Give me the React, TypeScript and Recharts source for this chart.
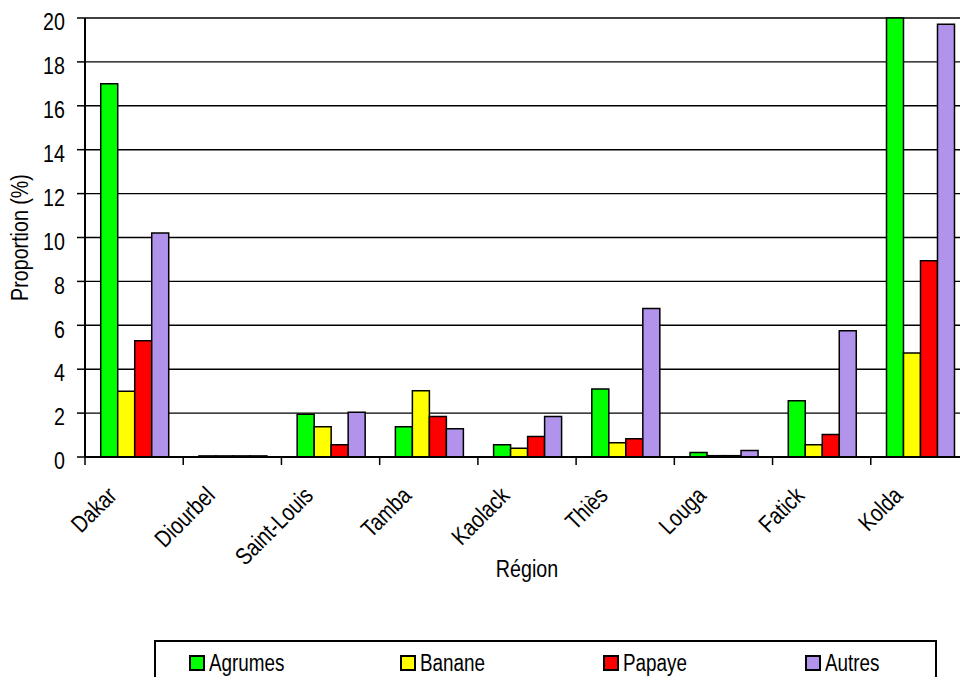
import React from 'react';
import { BarChart, Bar, XAxis, YAxis, CartesianGrid } from 'recharts';

// Proportion (%) by region and fruit type
const regions = ['Dakar', 'Diourbel', 'Saint-Louis', 'Tamba', 'Kaolack', 'Thiès', 'Louga', 'Fatick', 'Kolda'];
const agrumes = [17.0, 0.05, 1.95, 1.38, 0.56, 3.1, 0.2, 2.56, 20.0];
const banane = [3.0, 0.05, 1.38, 3.02, 0.4, 0.65, 0.06, 0.56, 4.74];
const papaye = [5.3, 0.05, 0.56, 1.84, 0.93, 0.83, 0.06, 1.02, 8.94];
const autres = [10.2, 0.05, 2.04, 1.29, 1.84, 6.76, 0.3, 5.75, 19.71];
const yTicks = [0, 2, 4, 6, 8, 10, 12, 14, 16, 18, 20];

const series = [
  { key: 'agrumes', name: 'Agrumes', color: '#00ff00' },
  { key: 'banane', name: 'Banane', color: '#ffff00' },
  { key: 'papaye', name: 'Papaye', color: '#ff0000' },
  { key: 'autres', name: 'Autres', color: '#b293eb' },
];

const chartData = regions.map((region, i) => ({
  region,
  agrumes: agrumes[i],
  banane: banane[i],
  papaye: papaye[i],
  autres: autres[i],
}));

// Arial Narrow look: Liberation Sans squeezed horizontally
const FONT = "'Liberation Sans', Arial, sans-serif";
const SQUEEZE = 'scale(0.82,1)';

const NarrowText = ({ x, y, angle = 0, anchor = 'middle', baseline, size = 24, children }: any) => (
  <text
    transform={`translate(${x},${y}) rotate(${angle}) ${SQUEEZE}`}
    textAnchor={anchor}
    dominantBaseline={baseline}
    fontFamily={FONT}
    fontSize={size}
    fill="#000"
  >
    {children}
  </text>
);

const RegionTick = (props: any) => {
  const { x, y, payload } = props;
  const half = payload && payload.offset ? payload.offset : 49;
  return (
    <g>
      <line x1={x - half} x2={x - half} y1={y} y2={y + 8} stroke="#000" strokeWidth={1.5} />
      <NarrowText x={x - 16} y={y + 40} angle={-45} anchor="end">
        {payload.value}
      </NarrowText>
    </g>
  );
};

const ValueTick = (props: any) => {
  const { x, y, payload } = props;
  return (
    <NarrowText x={x} y={y + 4} anchor="end" baseline="central">
      {payload.value}
    </NarrowText>
  );
};

export default function App() {
  return (
    <div style={{ position: 'absolute', left: 0, top: 0, width: 960, height: 677, overflow: 'hidden', background: '#fff' }}>
      <BarChart
        width={980}
        height={677}
        data={chartData}
        margin={{ top: 18, right: 11, left: 0, bottom: 0 }}
        barCategoryGap="16%"
        barGap={0}
      >
        <CartesianGrid vertical={false} stroke="#000" strokeWidth={1.4} />
        <XAxis
          dataKey="region"
          height={220}
          interval={0}
          tickSize={0}
          tickMargin={0}
          tickLine={false}
          axisLine={{ stroke: '#000', strokeWidth: 2 }}
          tick={<RegionTick />}
          label={{
            content: (p: any) => {
              const vb = p.viewBox;
              return (
                <NarrowText x={vb.x + vb.width / 2} y={vb.y + 120}>
                  Région
                </NarrowText>
              );
            },
          }}
        />
        <YAxis
          width={85}
          domain={[0, 20]}
          ticks={yTicks}
          interval={0}
          tickSize={8}
          tickMargin={12}
          tickLine={{ stroke: '#000', strokeWidth: 1.5 }}
          axisLine={{ stroke: '#000', strokeWidth: 2 }}
          tick={<ValueTick />}
          label={{
            content: (p: any) => {
              const vb = p.viewBox;
              return (
                <NarrowText x={vb.x + 20} y={vb.y + vb.height / 2} angle={-90} baseline="central">
                  Proportion (%)
                </NarrowText>
              );
            },
          }}
        />
        {series.map(s => (
          <Bar
            key={s.key}
            dataKey={s.key}
            name={s.name}
            fill={s.color}
            stroke="#000"
            strokeWidth={1.5}
            isAnimationActive={false}
          />
        ))}
      </BarChart>

      {/* legend box */}
      <div
        style={{
          position: 'absolute',
          left: 154,
          top: 640,
          width: 783,
          height: 50,
          border: '2px solid #000',
          boxSizing: 'border-box',
          fontFamily: FONT,
          fontSize: 23,
        }}
      >
        {series.map((s, i) => (
          <div
            key={s.key}
            style={{ position: 'absolute', left: [33, 244, 447, 649][i], top: 11, display: 'flex', alignItems: 'center' }}
          >
            <span
              style={{
                display: 'inline-block',
                width: 12,
                height: 12,
                background: s.color,
                border: '2px solid #000',
                marginRight: 4,
              }}
            />
            <span style={{ lineHeight: '20px', display: 'inline-block', transform: SQUEEZE, transformOrigin: 'left center' }}>
              {s.name}
            </span>
          </div>
        ))}
      </div>
    </div>
  );
}
